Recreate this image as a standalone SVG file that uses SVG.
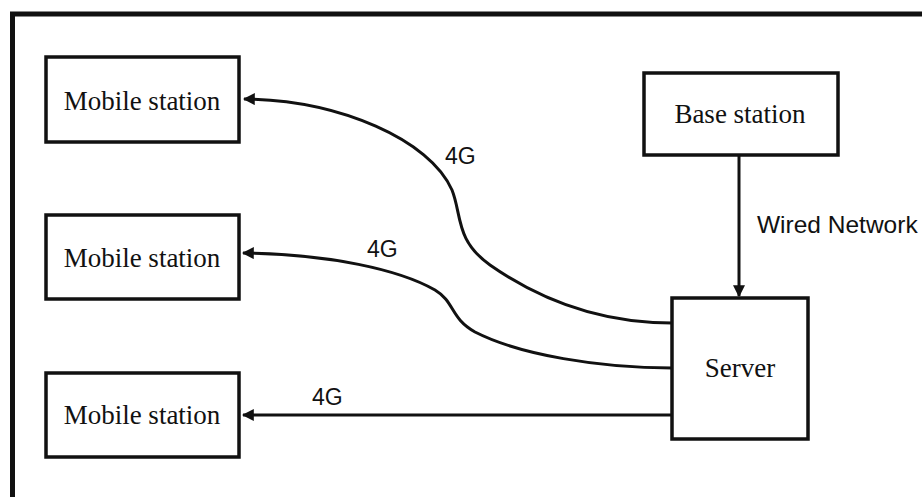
<svg xmlns="http://www.w3.org/2000/svg" width="922" height="497" viewBox="0 0 922 497">
<style>
.box{fill:#fff;stroke:#111;stroke-width:3.5}
.lbl{font-family:"Liberation Serif","Times New Roman",serif;font-size:27px;fill:#111;text-anchor:middle}
.edge{fill:none;stroke:#111;stroke-width:3}
.elab{font-family:"Liberation Sans",Arial,sans-serif;font-size:23px;fill:#111}
</style>
<defs>
<marker id="arr" viewBox="0 0 10 10" refX="9" refY="5" markerWidth="4" markerHeight="4" orient="auto" markerUnits="strokeWidth">
<path d="M0,0 L10,5 L0,10 z" fill="#111"/>
</marker>
</defs>
<rect width="922" height="497" fill="#fff"/>
<path d="M12.5,497 V14 H922" fill="none" stroke="#111" stroke-width="5"/>
<g id="connectors">
<path class="edge" marker-end="url(#arr)" d="M672,323 C600,323 540,300 490,265 C455,240 462,215 452,190 C430,140 340,100 244,99"/>
<path class="edge" marker-end="url(#arr)" d="M672,368 C600,368 520,355 475,332 C450,318 455,302 435,290 C400,270 330,254 243,253"/>
<path class="edge" marker-end="url(#arr)" d="M672,415 H243"/>
<path class="edge" marker-end="url(#arr)" d="M739,155 V296"/>
<text class="elab" x="445" y="164">4G</text>
<text class="elab" x="367" y="257">4G</text>
<text class="elab" x="312" y="405">4G</text>
<text class="elab" x="757" y="233" style="font-size:24.5px">Wired Network</text>
</g>
<g id="mobile1"><rect class="box" x="46" y="57" width="193" height="85"/><text class="lbl" x="142" y="110">Mobile station</text></g>
<g id="mobile2"><rect class="box" x="46" y="215" width="193" height="84"/><text class="lbl" x="142" y="267">Mobile station</text></g>
<g id="mobile3"><rect class="box" x="46" y="373" width="193" height="84"/><text class="lbl" x="142" y="424">Mobile station</text></g>
<g id="base"><rect class="box" x="644" y="73" width="194" height="82"/><text class="lbl" x="740" y="123">Base station</text></g>
<g id="server"><rect class="box" x="672" y="298" width="136" height="141"/><text class="lbl" x="740" y="377">Server</text></g>
</svg>
